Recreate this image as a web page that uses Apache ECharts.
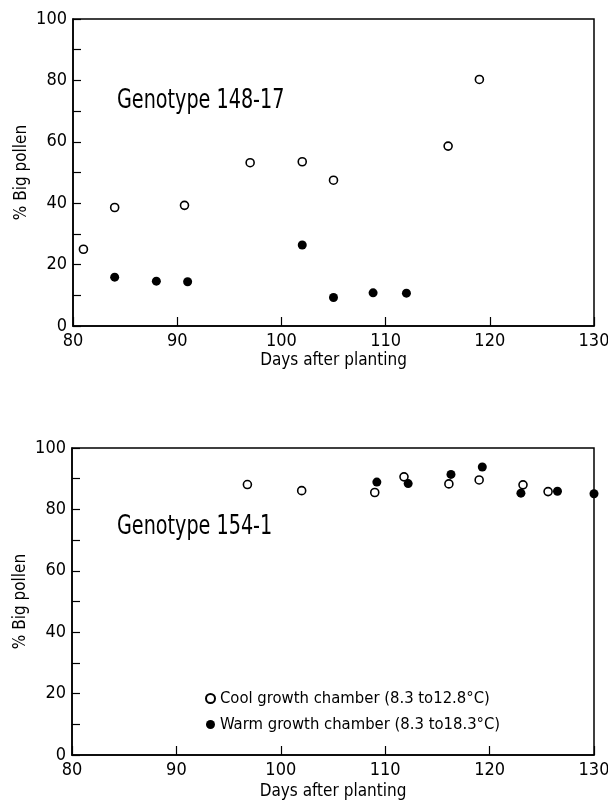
<!DOCTYPE html>
<html>
<head>
<meta charset="utf-8">
<script src="https://cdn.jsdelivr.net/npm/echarts@6/dist/echarts.min.js"></script>
<style>
  html, body { margin: 0; padding: 0; background: #fff; overflow: hidden; }
  #chart { width: 608px; height: 805px; }
</style>
</head>
<body>
<div id="chart"></div>
<script>
// Genotype 148-17 (top panel)
const coolDays148 = [81, 84, 90.7, 97, 102, 105, 116, 119];
const coolPct148 = [25, 38.6, 39.3, 53.2, 53.5, 47.5, 58.6, 80.3];
const warmDays148 = [84, 88, 91, 102, 105, 108.8, 112];
const warmPct148 = [15.9, 14.6, 14.4, 26.4, 9.3, 10.8, 10.7];

// Genotype 154-1 (bottom panel)
const coolDays154 = [96.8, 102, 109, 111.8, 116.1, 119, 123.2, 125.6];
const coolPct154 = [88.1, 86.1, 85.5, 90.6, 88.3, 89.6, 88, 85.8];
const warmDays154 = [109.2, 112.2, 116.3, 119.3, 123, 126.5, 130];
const warmPct154 = [88.9, 88.4, 91.4, 93.8, 85.3, 85.9, 85.1];

const xTicks = [80, 90, 100, 110, 120, 130];
const yTicks = [0, 20, 40, 60, 80, 100];

const panelTitles = ['Genotype 148-17', 'Genotype 154-1'];
const coolName = 'Cool growth chamber (8.3 to12.8°C)';
const warmName = 'Warm growth chamber (8.3 to18.3°C)';

const FONT = '"Liberation Sans Narrow", "DejaVu Sans Condensed", "Roboto Condensed", sans-serif';

const zip = (xs, ys) => xs.map((x, i) => [x, ys[i]]);

const chart = echarts.init(document.getElementById('chart'));

const xAxisBase = (gridIndex, gap) => ({
  gridIndex,
  type: 'value',
  min: xTicks[0],
  max: xTicks[xTicks.length - 1],
  interval: 10,
  name: 'Days after planting',
  nameLocation: 'middle',
  nameGap: gap,
  nameMoveOverlap: false,
  nameTextStyle: { color: '#000', fontFamily: FONT, fontSize: 17 },
  axisLine: { lineStyle: { color: '#000', width: 1.5 } },
  axisTick: { inside: true, length: 9, lineStyle: { color: '#000', width: 1.2 } },
  axisLabel: { color: '#000', fontFamily: FONT, fontSize: 18, margin: 6 },
  splitLine: { show: false }
});

const yAxisBase = (gridIndex) => ({
  gridIndex,
  type: 'value',
  min: yTicks[0],
  max: yTicks[yTicks.length - 1],
  interval: 20,
  name: '% Big pollen',
  nameLocation: 'middle',
  nameGap: 43,
  nameMoveOverlap: false,
  nameTextStyle: { color: '#000', fontFamily: FONT, fontSize: 17 },
  axisLine: { lineStyle: { color: '#000', width: 1.5 } },
  axisTick: { inside: true, length: 8, lineStyle: { color: '#000', width: 1.2 } },
  minorTick: { show: true, splitNumber: 2, length: 8, lineStyle: { color: '#000', width: 1.2 } },
  axisLabel: { color: '#000', fontFamily: FONT, fontSize: 18, margin: 6 },
  splitLine: { show: false }
});

const openStyle = { color: '#fff', borderColor: '#000', borderWidth: 1.6, opacity: 1 };
const filledStyle = { color: '#000', borderColor: '#000', borderWidth: 0, opacity: 1 };

// panel labels, squeezed horizontally like the condensed lettering
const titleText = (text, y) => ({
  type: 'text',
  x: 117,
  y: y,
  scaleX: 0.82,
  style: { text: text, fill: '#000', font: '26px ' + FONT, verticalAlign: 'top' }
});

const option = {
  backgroundColor: '#fff',
  animation: false,
  graphic: [titleText(panelTitles[0], 88), titleText(panelTitles[1], 514)],
  legend: {
    data: [coolName, warmName],
    orient: 'vertical',
    left: 200,
    top: 685,
    itemWidth: 9,
    itemHeight: 9,
    itemGap: 9,
    textStyle: { color: '#000', fontFamily: FONT, fontSize: 16.5 }
  },
  grid: [
    { left: 73, right: 14, top: 19, height: 307, show: true, borderColor: '#000', borderWidth: 1.5, outerBoundsMode: 'none' },
    { left: 72, right: 14, top: 448, height: 307, show: true, borderColor: '#000', borderWidth: 1.5, outerBoundsMode: 'none' }
  ],
  xAxis: [xAxisBase(0, 26), xAxisBase(1, 28)],
  yAxis: [yAxisBase(0), yAxisBase(1)],
  series: [
    { name: coolName, type: 'scatter', xAxisIndex: 0, yAxisIndex: 0, symbolSize: 8,
      itemStyle: openStyle, data: zip(coolDays148, coolPct148) },
    { name: warmName, type: 'scatter', xAxisIndex: 0, yAxisIndex: 0, symbolSize: 9,
      itemStyle: filledStyle, data: zip(warmDays148, warmPct148) },
    { name: coolName, type: 'scatter', xAxisIndex: 1, yAxisIndex: 1, symbolSize: 8,
      itemStyle: openStyle, data: zip(coolDays154, coolPct154) },
    { name: warmName, type: 'scatter', xAxisIndex: 1, yAxisIndex: 1, symbolSize: 9,
      itemStyle: filledStyle, data: zip(warmDays154, warmPct154) }
  ]
};

chart.setOption(option);
</script>
</body>
</html>
